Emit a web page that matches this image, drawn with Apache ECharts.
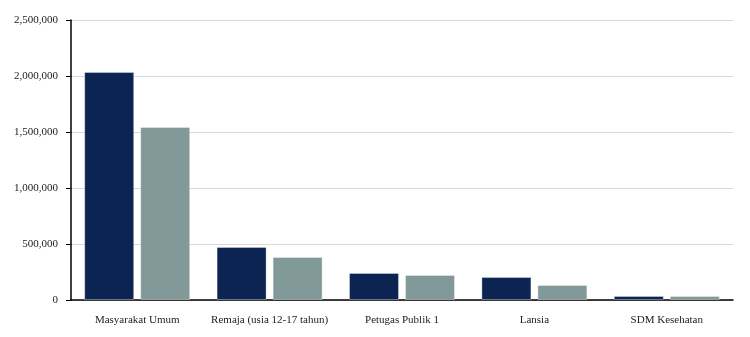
<!DOCTYPE html>
<html><head><meta charset="utf-8">
<script src="https://cdn.jsdelivr.net/npm/echarts@6/dist/echarts.min.js"></script>
<style>html,body{margin:0;padding:0;background:#fff}#c{width:750px;height:337px}</style>
</head><body><div id="c"></div>
<script>
const categories = ["Masyarakat Umum", "Remaja (usia 12-17 tahun)", "Petugas Publik 1", "Lansia", "SDM Kesehatan"];
const series1 = [2036000, 473000, 241000, 205000, 36000];
const series2 = [1545000, 384000, 223000, 134000, 35000];
const yTicks = { min: 0, max: 2500000, interval: 500000 };

const chart = echarts.init(document.getElementById('c'), null, {renderer: 'canvas'});
const font = '"Liberation Serif", "DejaVu Serif", serif';
chart.setOption({
  animation: false,
  grid: { left: 71, right: 17, top: 20, bottom: 37, containLabel: false },
  xAxis: {
    type: 'category', data: categories,
    axisLine: { lineStyle: { color: '#000', width: 1.5 } },
    axisTick: { show: false },
    axisLabel: { color: '#222', fontFamily: font, fontSize: 11, margin: 15, interval: 0 }
  },
  yAxis: {
    type: 'value', min: yTicks.min, max: yTicks.max, interval: yTicks.interval,
    axisLine: { show: true, lineStyle: { color: '#000', width: 1.5 } },
    axisTick: { show: true, length: 5, lineStyle: { color: '#000' } },
    axisLabel: { color: '#222', fontFamily: font, fontSize: 11, margin: 13,
      formatter: v => v.toLocaleString('en-US') },
    splitLine: { lineStyle: { color: '#d9d9d9' } }
  },
  series: [
    { type: 'bar', data: series1, barWidth: 50, barGap: '12%',
      itemStyle: { color: '#0b2452', borderColor: 'rgba(255,255,255,0.35)', borderWidth: 1 } },
    { type: 'bar', data: series2, barWidth: 50,
      itemStyle: { color: '#819999', borderColor: 'rgba(255,255,255,0.35)', borderWidth: 1 } }
  ]
});
</script></body></html>
